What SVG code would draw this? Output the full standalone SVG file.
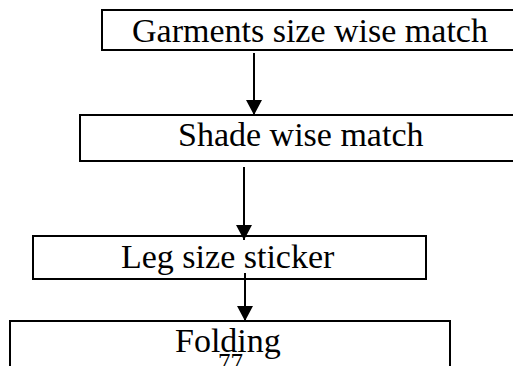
<svg xmlns="http://www.w3.org/2000/svg" width="513" height="366" viewBox="0 0 513 366">
  <style>
    .box { fill: #ffffff; stroke: #000000; stroke-width: 2; }
    .lbl { font-family: "Liberation Serif", "Times New Roman", serif; font-size: 34px; fill: #000000; }
    .pg { font-family: "Liberation Serif", "Times New Roman", serif; font-size: 25px; fill: #000000; }
    .edge { stroke: #000000; stroke-width: 2; fill: none; marker-end: url(#head); }
  </style>
  <defs>
    <marker id="head" markerUnits="userSpaceOnUse" markerWidth="16" markerHeight="16" viewBox="0 0 16 16" refX="8" refY="15" orient="0">
      <path d="M0,0 L16,0 L8,15 Z" fill="#000000"/>
    </marker>
  </defs>
  <rect width="513" height="366" fill="#ffffff"/>

  <g id="node-garments">
    <rect class="box" x="102" y="10" width="430" height="40"/>
    <text class="lbl" x="132" y="42">Garments size wise match</text>
  </g>
  <g id="node-shade">
    <rect class="box" x="80" y="115" width="450" height="46"/>
    <text class="lbl" x="178" y="146">Shade wise match</text>
  </g>
  <g id="node-leg">
    <rect class="box" x="33" y="236" width="393" height="43"/>
    <text class="lbl" x="121" y="268">Leg size sticker</text>
  </g>
  <g id="node-folding">
    <rect class="box" x="10" y="321" width="440" height="80"/>
    <text class="lbl" x="175" y="352">Folding</text>
  </g>

  <g id="connectors">
    <line class="edge" x1="254" y1="53" x2="254" y2="115"/>
    <line class="edge" x1="244" y1="167" x2="244" y2="240"/>
    <line class="edge" x1="245" y1="273" x2="245" y2="321"/>
  </g>

  <text class="pg" x="218" y="371">77</text>
</svg>
